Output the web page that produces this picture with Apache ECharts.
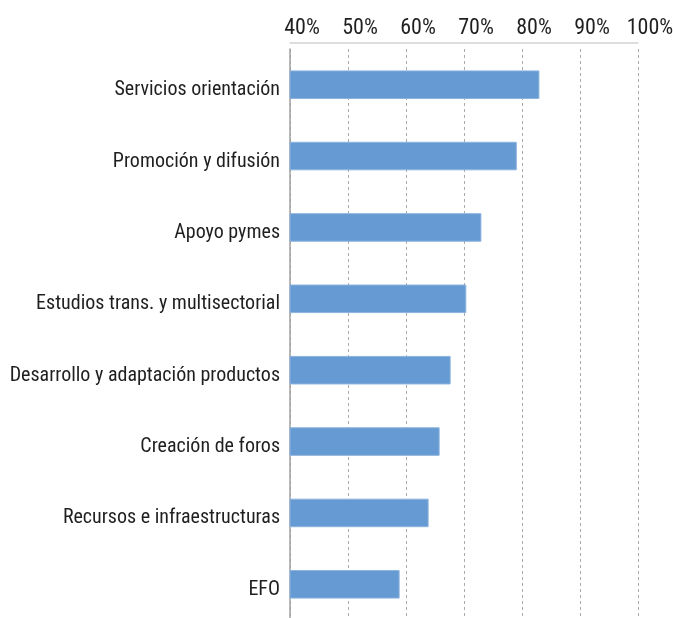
<!DOCTYPE html>
<html>
<head>
<meta charset="utf-8">
<script src="https://cdn.jsdelivr.net/npm/echarts@6/dist/echarts.min.js"></script>
<style>
html,body{margin:0;padding:0;background:#fff;}
#chart{width:673px;height:618px;}
</style>
</head>
<body>
<div id="chart"></div>
<script>
const categories = [
  "Servicios orientación",
  "Promoción y difusión",
  "Apoyo pymes",
  "Estudios trans. y multisectorial",
  "Desarrollo y adaptación productos",
  "Creación de foros",
  "Recursos e infraestructuras",
  "EFO"
];
const values = [0.830, 0.791, 0.730, 0.704, 0.677, 0.658, 0.639, 0.589];
const axisMin = 0.4;
const axisMax = 1.0;
const axisStep = 0.1;

const FONT = "'Roboto Condensed', 'Liberation Sans Narrow', 'Arial Narrow', sans-serif";
const chart = echarts.init(document.getElementById('chart'), null, {renderer: 'canvas'});
chart.setOption({
  animation: false,
  backgroundColor: '#fff',
  grid: {left: 290, right: 35, top: 49, bottom: -2, containLabel: false, outerBoundsMode: 'none'},
  xAxis: {
    type: 'value',
    position: 'top',
    offset: 6,
    min: axisMin, max: axisMax, interval: axisStep,
    axisLine: {show: true, lineStyle: {color: '#d4d4d4', width: 1.5}},
    axisTick: {show: false},
    axisLabel: {
      color: '#1f1f1f', fontSize: 22, fontFamily: FONT, margin: 4,
      padding: [0, 0, 0, 24],
      formatter: v => Math.round(v * 100) + '%'
    },
    splitLine: {show: true, lineStyle: {color: '#aaaaaa', type: [3, 3], width: 1}}
  },
  yAxis: {
    type: 'category',
    data: categories,
    inverse: true,
    axisLine: {show: true, lineStyle: {color: '#a0a0a0', width: 1.5}},
    axisTick: {show: false},
    axisLabel: {
      color: '#1f1f1f', fontSize: 20, fontFamily: FONT, margin: 10,
      verticalAlign: 'top', lineHeight: 11
    }
  },
  series: [{
    type: 'bar',
    data: values,
    barWidth: '40%',
    itemStyle: {color: '#659ad2', borderColor: '#8cb3df', borderWidth: 1}
  }]
});
</script>
</body>
</html>
